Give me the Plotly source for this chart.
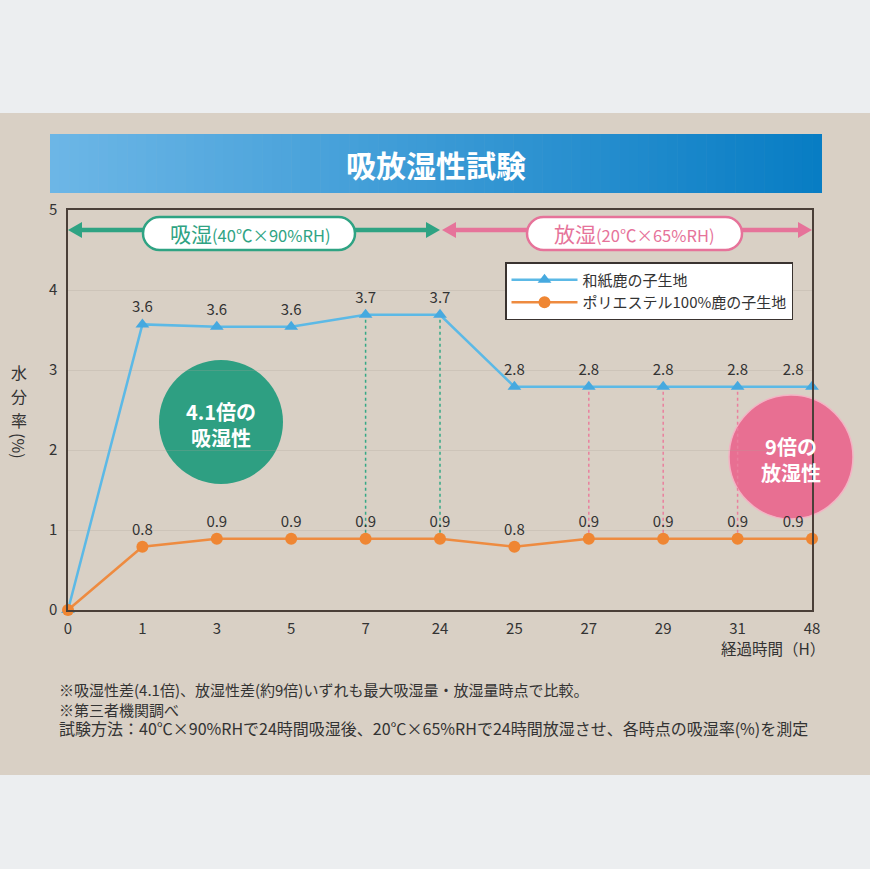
import plotly.graph_objects as go

# ---------------- data ----------------
hours = ["0", "1", "3", "5", "7", "24", "25", "27", "29", "31", "48"]
washi = [0, 3.57, 3.54, 3.54, 3.69, 3.69, 2.79, 2.79, 2.79, 2.79, 2.79]
washi_labels = ["", "3.6", "3.6", "3.6", "3.7", "3.7", "2.8", "2.8", "2.8", "2.8", "2.8"]
poly = [0, 0.79, 0.89, 0.89, 0.89, 0.89, 0.79, 0.89, 0.89, 0.89, 0.89]
poly_labels = ["", "0.8", "0.9", "0.9", "0.9", "0.9", "0.8", "0.9", "0.9", "0.9", "0.9"]
absorb_marks = ["7", "24"]
release_marks = ["27", "29", "31"]
y_ticks = [0, 1, 2, 3, 4, 5]

FONT = "Noto Sans CJK JP"
W, H = 870, 869
L, R, T, B = 68, 812, 210, 610  # plot area in pixels

def px(x):
    return (x - L) / (R - L)

def py(y):
    return (B - y) / (B - T)

xi = list(range(len(hours)))
label_pos = ["top center"] * (len(hours) - 1) + ["top left"]

fig = go.Figure()
fig.add_trace(go.Scatter(
    x=xi, y=washi, name="和紙鹿の子生地", mode="lines+markers+text",
    text=washi_labels, textposition=label_pos,
    textfont=dict(family=FONT, size=15, color="#333333"),
    line=dict(color="#5cb9e6", width=2.5),
    marker=dict(symbol="triangle-up", size=12, color="#46a9df"),
    cliponaxis=False,
))
fig.add_trace(go.Scatter(
    x=xi, y=poly, name="ポリエステル100%鹿の子生地", mode="lines+markers+text",
    text=poly_labels, textposition=label_pos,
    textfont=dict(family=FONT, size=15, color="#333333"),
    line=dict(color="#ee8b40", width=2.5),
    marker=dict(symbol="circle", size=12, color="#ef8633"),
    cliponaxis=False,
))

GREEN = "#2fa383"
PINK = "#e6739a"

shapes = []
# background panel
shapes.append(dict(type="rect", xref="paper", yref="paper",
                   x0=px(0), x1=px(W), y0=py(775), y1=py(113),
                   fillcolor="#d9d0c5", line=dict(width=0), layer="below"))
# title banner gradient strips
n = 80
c0 = (108, 182, 230)
c1 = (8, 125, 196)
bx0, bx1 = 50, 822
for k in range(n):
    t = k / (n - 1)
    col = tuple(int(round(c0[j] + (c1[j] - c0[j]) * t)) for j in range(3))
    xa = bx0 + (bx1 - bx0) * k / n
    xb = bx0 + (bx1 - bx0) * (k + 1) / n + 0.6
    shapes.append(dict(type="rect", xref="paper", yref="paper",
                       x0=px(xa), x1=px(min(xb, bx1)), y0=py(193), y1=py(134),
                       fillcolor="rgb(%d,%d,%d)" % col, line=dict(width=0), layer="below"))

# dotted vertical guide lines
for h in absorb_marks:
    i = hours.index(h)
    shapes.append(dict(type="line", xref="x", yref="y", x0=i, x1=i, y0=poly[i], y1=washi[i],
                       line=dict(color="#35a886", width=1.5, dash="dot"), layer="below"))
for h in release_marks:
    i = hours.index(h)
    shapes.append(dict(type="line", xref="x", yref="y", x0=i, x1=i, y0=poly[i], y1=washi[i],
                       line=dict(color="#ea7f9d", width=1.5, dash="dot"), layer="below"))

# circles (between grid and traces so that data labels stay visible)
shapes.append(dict(type="circle", xref="paper", yref="paper",
                   x0=px(159), x1=px(283), y0=py(484), y1=py(360),
                   fillcolor="#2e9f82", line=dict(width=0), layer="between"))
shapes.append(dict(type="circle", xref="paper", yref="paper",
                   x0=px(729), x1=px(853), y0=py(519), y1=py(395),
                   fillcolor="#e86f92", line=dict(color="#f3b3c4", width=1.5), layer="between"))

# double arrows (line + triangular heads)
def double_arrow(x0p, x1p, yp, color, head=14, half=8):
    out = [dict(type="line", xref="paper", yref="paper",
                x0=px(x0p + head - 2), x1=px(x1p - head + 2), y0=py(yp), y1=py(yp),
                line=dict(color=color, width=4.5), layer="above")]
    pl = (f"M {px(x0p)},{py(yp)} L {px(x0p + head)},{py(yp - half)} "
          f"L {px(x0p + head)},{py(yp + half)} Z")
    pr = (f"M {px(x1p)},{py(yp)} L {px(x1p - head)},{py(yp - half)} "
          f"L {px(x1p - head)},{py(yp + half)} Z")
    for p in (pl, pr):
        out.append(dict(type="path", xref="paper", yref="paper", path=p,
                        fillcolor=color, line=dict(width=0), layer="above"))
    return out

shapes += double_arrow(68, 440, 230, GREEN)
shapes += double_arrow(442, 812, 230, PINK)

# rounded label boxes
def rounded(x0p, x1p, y0p, y1p, color):
    r = (y1p - y0p) / 2
    xa, xb = px(x0p), px(x1p)
    ya, yb = py(y1p), py(y0p)  # bottom, top in paper
    rx = r / (R - L)
    ry = r / (B - T)
    path = (f"M {xa+rx},{yb} L {xb-rx},{yb} C {xb-rx*0.45},{yb} {xb},{yb-ry*0.45} {xb},{yb-ry} "
            f"C {xb},{ya+ry*0.45} {xb-rx*0.45},{ya} {xb-rx},{ya} L {xa+rx},{ya} "
            f"C {xa+rx*0.45},{ya} {xa},{ya+ry*0.45} {xa},{ya+ry} "
            f"C {xa},{yb-ry*0.45} {xa+rx*0.45},{yb} {xa+rx},{yb} Z")
    return dict(type="path", xref="paper", yref="paper", path=path,
                fillcolor="white", line=dict(color=color, width=2.5), layer="above")

shapes.append(rounded(143, 355, 217, 250, GREEN))
shapes.append(rounded(527, 742, 217, 250, PINK))

annotations = []

def ann(xp, yp, text, size, color, xanchor="center", yanchor="middle", angle=0):
    return dict(x=px(xp), y=py(yp), xref="paper", yref="paper", showarrow=False,
                xanchor=xanchor, yanchor=yanchor, text=text, textangle=angle,
                align="left" if xanchor == "left" else "center",
                font=dict(family=FONT, size=size, color=color))

annotations.append(ann(250, 233, "<span style='font-size:21px'>吸湿</span>(40℃×90%RH)", 16.5, GREEN))
annotations.append(ann(634, 233, "<span style='font-size:21px'>放湿</span>(20℃×65%RH)", 16.5, PINK))
annotations.append(ann(436, 164, "<b>吸放湿性試験</b>", 30, "white"))
annotations.append(ann(221, 424, "<b>4.1倍の<br>吸湿性</b>", 20, "white"))
annotations.append(ann(791, 459, "<b>9倍の<br>放湿性</b>", 20, "white"))
# vertical y-axis title
for k, ch in enumerate("水分率"):
    annotations.append(ann(19, 372 + 24 * k, ch, 16, "#333333"))
annotations.append(ann(19, 446, "(%)", 16, "#333333", angle=90))
annotations.append(ann(773, 648, "経過時間（H）", 15.5, "#333333"))

notes = [
    "※吸湿性差(4.1倍)、放湿性差(約9倍)いずれも最大吸湿量・放湿量時点で比較。",
    "※第三者機関調べ",
    "<span style='font-size:16px'>試験方法：40℃×90%RHで24時間吸湿後、20℃×65%RHで24時間放湿させ、各時点の吸湿率(%)を測定</span>",
]
annotations.append(ann(57, 709, "<br>".join(notes), 15, "#333333", xanchor="left"))

fig.update_layout(
    width=W, height=H,
    margin=dict(l=L, r=W - R, t=T, b=H - B, pad=0),
    paper_bgcolor="#eceef0",
    plot_bgcolor="rgba(0,0,0,0)",
    font=dict(family=FONT, color="#333333"),
    shapes=shapes,
    annotations=annotations,
    showlegend=True,
    legend=dict(x=px(505), y=py(262), xanchor="left", yanchor="top",
                bgcolor="white", bordercolor="#3a3330", borderwidth=1.5,
                font=dict(family=FONT, size=15, color="#333333"),
                itemwidth=66, tracegroupgap=0),
    xaxis=dict(range=[0, 10], tickmode="array", tickvals=xi, ticktext=hours,
               showline=True, mirror=True, linecolor="#4a3f38", linewidth=1.5,
               showgrid=False, zeroline=False, ticks="", ticklabelstandoff=4,
               tickfont=dict(family=FONT, size=15, color="#333333")),
    yaxis=dict(range=[0, 5], tickmode="array", tickvals=y_ticks,
               showline=True, mirror=True, linecolor="#4a3f38", linewidth=1.5,
               showgrid=True, gridcolor="rgba(170,160,150,0.25)", gridwidth=1,
               zeroline=False, ticks="", ticklabelstandoff=6,
               tickfont=dict(family=FONT, size=15, color="#333333")),
)

fig.write_html("out.html", config={"displayModeBar": False},
               post_script="document.body.style.margin='0';document.body.style.overflow='hidden';")
